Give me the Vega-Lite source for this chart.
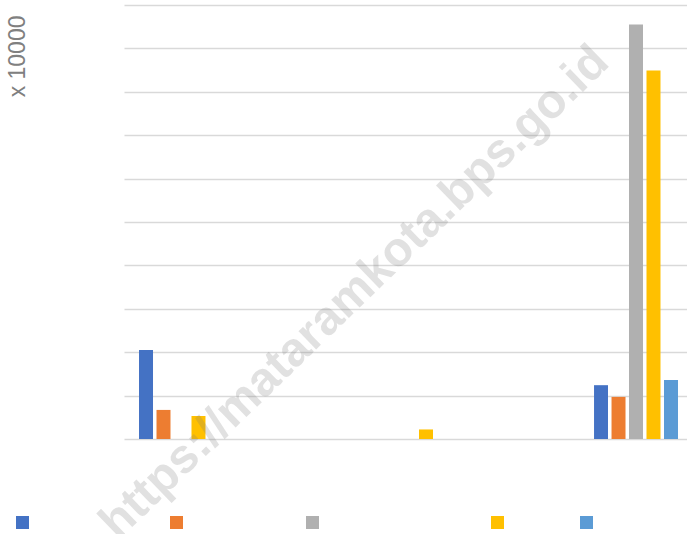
{
  "$schema": "https://vega.github.io/schema/vega-lite/v6.json",
  "width": 569,
  "height": 434,
  "autosize": {"type": "none"},
  "padding": {"left": 124, "top": 5, "right": 0, "bottom": 95},
  "background": "white",
  "title": {
    "text": "https://mataramkota.bps.go.id",
    "angle": -44,
    "font": "Liberation Sans",
    "fontSize": 48,
    "fontWeight": "bold",
    "color": "rgba(127,127,127,0.23)",
    "anchor": "middle",
    "frame": "group",
    "orient": "top",
    "offset": -766,
    "align": "center",
    "baseline": "alphabetic",
    "dx": -61,
    "dy": 0,
    "zindex": 1
  },
  "data": {
    "values": [
      {"kelompok": "Kelompok 1", "seri": "Perikanan Tangkap laut", "nilai": 20.5},
      {"kelompok": "Kelompok 1", "seri": "Perikanan Budidaya", "nilai": 6.7},
      {"kelompok": "Kelompok 1", "seri": "Perairan Umum dan Kolam Air", "nilai": 0},
      {"kelompok": "Kelompok 1", "seri": "Kolam Ikan", "nilai": 5.3},
      {"kelompok": "Kelompok 1", "seri": "Lainnya", "nilai": 0},
      {"kelompok": "Kelompok 2", "seri": "Perikanan Tangkap laut", "nilai": 0},
      {"kelompok": "Kelompok 2", "seri": "Perikanan Budidaya", "nilai": 0},
      {"kelompok": "Kelompok 2", "seri": "Perairan Umum dan Kolam Air", "nilai": 0},
      {"kelompok": "Kelompok 2", "seri": "Kolam Ikan", "nilai": 2.2},
      {"kelompok": "Kelompok 2", "seri": "Lainnya", "nilai": 0},
      {"kelompok": "Kelompok 3", "seri": "Perikanan Tangkap laut", "nilai": 12.4},
      {"kelompok": "Kelompok 3", "seri": "Perikanan Budidaya", "nilai": 9.7},
      {"kelompok": "Kelompok 3", "seri": "Perairan Umum dan Kolam Air", "nilai": 95.5},
      {"kelompok": "Kelompok 3", "seri": "Kolam Ikan", "nilai": 84.9},
      {"kelompok": "Kelompok 3", "seri": "Lainnya", "nilai": 13.6}
    ]
  },
  "mark": {"type": "bar"},
  "encoding": {
    "x": {
      "field": "kelompok",
      "type": "nominal",
      "scale": {"paddingInner": 0.631, "paddingOuter": 0.066},
      "axis": {"title": null, "labels": false, "ticks": false, "domain": false, "grid": false}
    },
    "xOffset": {
      "field": "seri",
      "type": "nominal",
      "sort": ["Perikanan Tangkap laut", "Perikanan Budidaya", "Perairan Umum dan Kolam Air", "Kolam Ikan", "Lainnya"],
      "scale": {"paddingInner": 0.2, "paddingOuter": 0}
    },
    "y": {
      "field": "nilai",
      "type": "quantitative",
      "scale": {"domain": [0, 100], "nice": false},
      "axis": {
        "title": "x 10000",
        "titleFont": "Liberation Sans",
        "titleFontSize": 23,
        "titleFontWeight": "normal",
        "titleColor": "#808080",
        "titleAngle": -90,
        "titleAlign": "right",
        "titleBaseline": "middle",
        "titleX": -107,
        "titleY": 10,
        "labels": false,
        "ticks": false,
        "domain": false,
        "tickCount": 10,
        "grid": true,
        "gridColor": "#d9d9d9",
        "gridWidth": 1.5
      }
    },
    "color": {
      "field": "seri",
      "type": "nominal",
      "sort": ["Perikanan Tangkap laut", "Perikanan Budidaya", "Perairan Umum dan Kolam Air", "Kolam Ikan", "Lainnya"],
      "scale": {
        "domain": ["Perikanan Tangkap laut", "Perikanan Budidaya", "Perairan Umum dan Kolam Air", "Kolam Ikan", "Lainnya"],
        "range": ["#4472c4", "#ed7d31", "#b0b0b0", "#ffc000", "#5b9bd5"]
      },
      "legend": {
        "title": null,
        "orient": "none",
        "direction": "horizontal",
        "columns": 5,
        "legendX": -108,
        "legendY": 511,
        "padding": 0,
        "symbolType": "square",
        "symbolSize": 169,
        "symbolStrokeWidth": 0,
        "symbolOpacity": 1,
        "labelFont": "Liberation Sans",
        "labelFontSize": 12,
        "labelOpacity": 0,
        "labelOffset": 5,
        "columnPadding": 10
      }
    }
  },
  "config": {"view": {"stroke": null}}
}
